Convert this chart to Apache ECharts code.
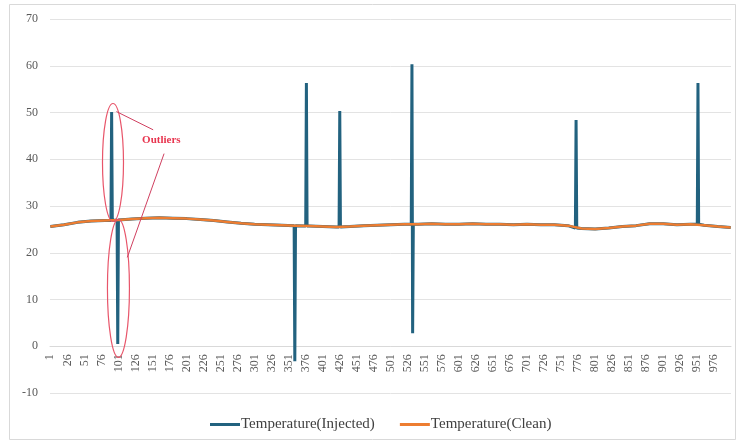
<!DOCTYPE html>
<html>
<head>
<meta charset="utf-8">
<script src="https://cdn.jsdelivr.net/npm/echarts@6/dist/echarts.min.js"></script>
<style>html,body{margin:0;padding:0;background:#fff;}#c{width:737px;height:441px;}</style>
</head>
<body>
<div id="c"></div>
<script>
// Category labels 1..1000
const categories = [];
for (let i = 1; i <= 1000; i++) categories.push(String(i));

// Clean series, read at sampled category indices (0-based)
const cleanIdx = [0,20,40,60,80,100,120,140,160,180,200,220,240,260,280,300,320,340,360,380,400,420,440,460,480,500,520,540,560,580,600,620,640,660,680,700,720,740,760,780,800,820,840,860,880,900,920,940,960,980,999];
const cleanVal = [25.6,26.0,26.5,26.8,26.9,27.0,27.2,27.4,27.5,27.4,27.3,27.1,26.9,26.6,26.3,26.1,26.0,25.9,25.8,25.7,25.6,25.5,25.6,25.8,25.9,26.0,26.1,26.1,26.2,26.1,26.1,26.2,26.1,26.1,26.0,26.1,26.0,26.0,25.8,25.2,25.1,25.3,25.6,25.8,26.2,26.2,26.0,26.1,25.9,25.6,25.4];

// Injected outliers (0-based index), their values and local clean baseline
const outlierIdx = [90, 99, 359, 376, 425, 531, 532, 772, 951];
const outlierVal = [50.1, 0.5, -3.2, 56.3, 50.3, 60.3, 2.8, 48.4, 56.3];
const outlierBase = [26.9, 27.0, 25.8, 25.7, 25.5, 26.1, 26.1, 25.3, 26.1];

const yTicks = [-10, 0, 10, 20, 30, 40, 50, 60, 70];

// build series data
const cleanData = cleanIdx.map((x, k) => [x, cleanVal[k]]);
const injMap = new Map();
cleanIdx.forEach((x, k) => injMap.set(x, cleanVal[k]));
outlierIdx.forEach((x, k) => {
  if (!outlierIdx.includes(x - 1)) injMap.set(x - 1, outlierBase[k]);
  if (!outlierIdx.includes(x + 1)) injMap.set(x + 1, outlierBase[k]);
});
outlierIdx.forEach((x, k) => injMap.set(x, outlierVal[k]));
const injData = Array.from(injMap.entries()).sort((a, b) => a[0] - b[0]);

const FONT = '"Liberation Serif", "Times New Roman", serif';
const chart = echarts.init(document.getElementById('c'), null, {renderer: 'canvas'});
const option = {
  animation: false,
  backgroundColor: '#fff',
  textStyle: {fontFamily: FONT},
  grid: {left: 50, right: 6, top: 19, bottom: 48, containLabel: false},
  legend: {
    top: 412, left: 205, itemGap: 25, itemWidth: 30, itemHeight: 3,
    icon: 'rect',
    textStyle: {fontFamily: FONT, fontSize: 15, color: '#404040', padding: [0, 0, 0, -4]},
    data: ['Temperature(Injected)', 'Temperature(Clean)']
  },
  xAxis: {
    type: 'category', data: categories, boundaryGap: true,
    axisLine: {onZero: false, lineStyle: {color: '#d9d9d9'}},
    axisTick: {show: false},
    axisLabel: {interval: 24, rotate: 90, fontSize: 12, color: '#595959', fontFamily: FONT, margin: 8},
    splitLine: {show: false}
  },
  yAxis: {
    type: 'value', min: yTicks[0], max: yTicks[yTicks.length - 1], interval: 10,
    axisLine: {show: false}, axisTick: {show: false},
    axisLabel: {fontSize: 12, color: '#595959', fontFamily: FONT, margin: 12},
    splitLine: {lineStyle: {color: '#e3e3e3', width: 1}}
  },
  series: [
    {name: 'Temperature(Injected)', type: 'line', data: injData, showSymbol: false, symbol: 'none',
     lineStyle: {color: '#22627f', width: 3}, itemStyle: {color: '#22627f'}, z: 2},
    {name: 'Temperature(Clean)', type: 'line', data: cleanData, showSymbol: false, symbol: 'none',
     lineStyle: {color: '#ED7D31', width: 2.5}, itemStyle: {color: '#ED7D31'}, z: 3}
  ]
};
chart.setOption(option);

const px = p => chart.convertToPixel({xAxisIndex: 0, yAxisIndex: 0}, p);
// Move the category axis (line + labels) up to the value 0, as in the reference
const yZero = px([0, 0])[1], yBottom = px([0, yTicks[0]])[1];
chart.setOption({xAxis: {offset: -(yBottom - yZero)}});

// Annotation placed in data coordinates
const annEllipses = [
  {x: 92, y: 39.3, rx: 10.5, ry: 59},
  {x: 100, y: 12.4, rx: 11, ry: 69}
];
const annLabel = {x: 163, y: 44, text: 'Outliers'};
const annLines = [
  [[97, 50.2], [151, 46.3]],
  [[167, 41.2], [113, 19.0]]
];
const graphics = [];
graphics.push({type: 'rect', shape: {x: 9.5, y: 4.5, width: 726, height: 435}, style: {fill: 'none', stroke: '#d9d9d9', lineWidth: 1}, silent: true, z: 0});
annEllipses.forEach(e => {
  const c = px([e.x, e.y]);
  graphics.push({type: 'ellipse', shape: {cx: c[0], cy: c[1], rx: e.rx, ry: e.ry}, style: {fill: 'none', stroke: '#e8556a', lineWidth: 1.2}, z: 100});
});
annLines.forEach(l => {
  const a = px(l[0]), b = px(l[1]);
  graphics.push({type: 'line', shape: {x1: a[0], y1: a[1], x2: b[0], y2: b[1]}, style: {stroke: '#d04060', lineWidth: 1}, z: 100});
});
const lp = px([annLabel.x, annLabel.y]);
graphics.push({type: 'text', x: lp[0], y: lp[1], style: {text: annLabel.text, fill: '#e8354f', font: 'bold 11px ' + FONT, textAlign: 'center', textVerticalAlign: 'middle'}, z: 100});
chart.setOption({graphic: graphics});
</script>
</body>
</html>
